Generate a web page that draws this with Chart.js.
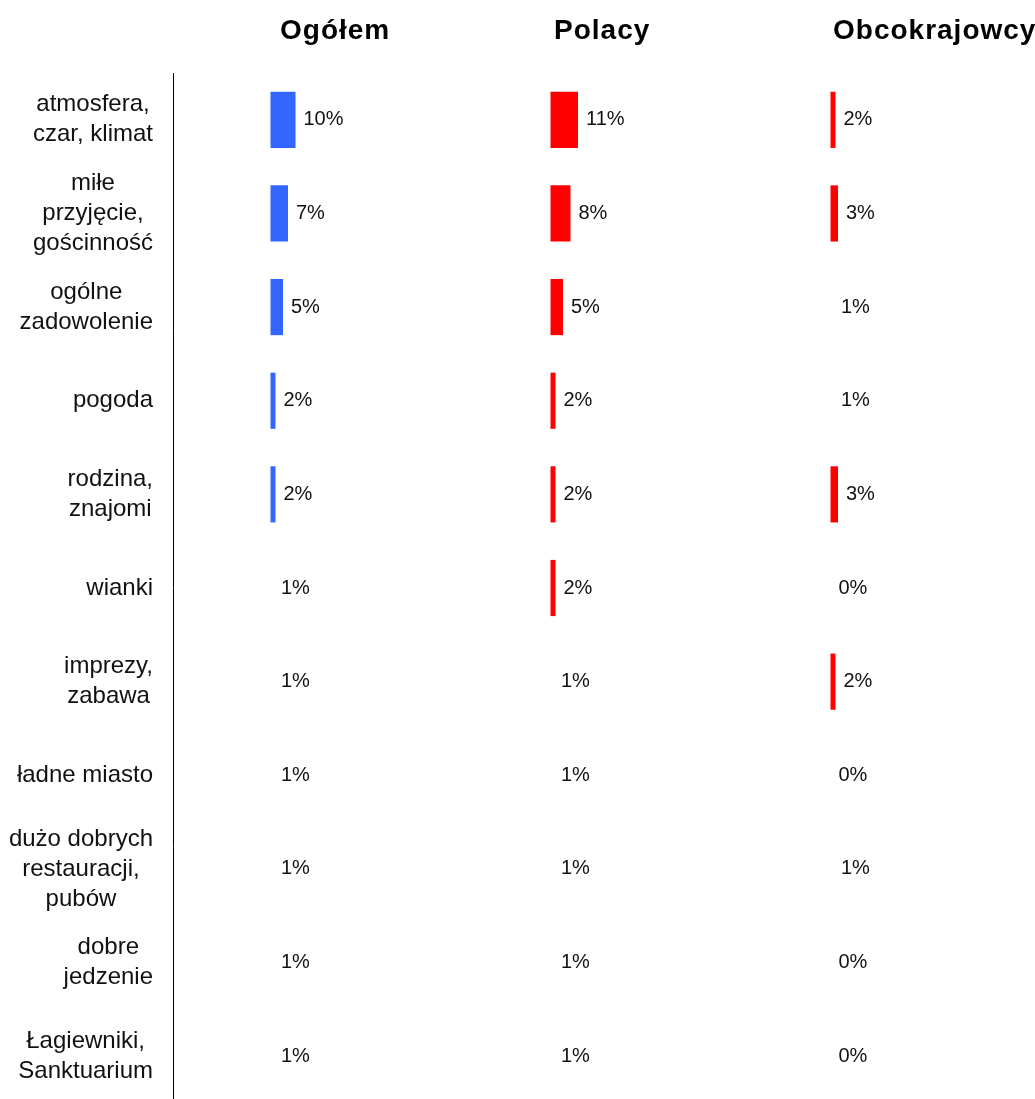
<!DOCTYPE html>
<html>
<head>
<meta charset="utf-8">
<script src="https://cdn.jsdelivr.net/npm/chart.js@4"></script>
<style>
  html, body { margin: 0; padding: 0; background: #fff; overflow: hidden; }
  .wrap { position: relative; width: 1035px; height: 1103px; }
  .head {
    position: absolute; top: 16px;
    font: bold 28px/28px "Liberation Sans", Arial, sans-serif;
    letter-spacing: 1px;
    color: #000; white-space: nowrap;
  }
</style>
</head>
<body>
<div class="wrap">
  <div class="head" style="left:280px">Ogółem</div>
  <div class="head" style="left:554px">Polacy</div>
  <div class="head" style="left:833px">Obcokrajowcy</div>
  <canvas id="chart" width="1035" height="1103"></canvas>
</div>
<script>
const categories = [
  ['atmosfera,', 'czar, klimat'],
  ['miłe', 'przyjęcie,', 'gościnność'],
  ['ogólne', 'zadowolenie'],
  'pogoda',
  ['rodzina,', 'znajomi'],
  'wianki',
  ['imprezy,', 'zabawa'],
  'ładne miasto',
  ['dużo dobrych', 'restauracji,', 'pubów'],
  ['dobre', 'jedzenie'],
  ['Łagiewniki,', 'Sanktuarium']
];

const ogolem = [10, 7, 5, 2, 2, 1, 1, 1, 1, 1, 1];
const polacy = [11, 8, 5, 2, 2, 2, 1, 1, 1, 1, 1];
const obcokrajowcy = [2, 3, 1, 1, 3, 0, 2, 0, 1, 0, 0];

const BLUE = '#3366ff';
const RED = '#ff0000';
const TEXT = '#111';
const FONT = '"Liberation Sans", Arial, sans-serif';

// bars of 1% and less are not drawn in the original, only the label
function barColor(color) {
  return (ctx) => (ctx.raw > 1 ? color : 'rgba(0,0,0,0)');
}

// category labels: block right aligned, lines centred inside the block
const categoryLabels = {
  id: 'categoryLabels',
  afterDraw(chart) {
    const ctx = chart.ctx;
    const y = chart.scales.y;
    const right = chart.chartArea.left - 20;
    ctx.save();
    ctx.font = '24px ' + FONT;
    ctx.fillStyle = TEXT;
    ctx.textAlign = 'center';
    ctx.textBaseline = 'middle';
    categories.forEach((label, i) => {
      const lines = Array.isArray(label) ? label : [label];
      const w = Math.max(...lines.map((l) => ctx.measureText(l).width));
      const cy = y.getPixelForValue(i);
      lines.forEach((line, j) => {
        ctx.fillText(line, right - w / 2, cy + (j - (lines.length - 1) / 2) * 30);
      });
    });
    ctx.restore();
  }
};

const valueLabels = {
  id: 'valueLabels',
  afterDatasetsDraw(chart) {
    const ctx = chart.ctx;
    ctx.save();
    ctx.font = '20px ' + FONT;
    ctx.fillStyle = TEXT;
    ctx.textAlign = 'left';
    ctx.textBaseline = 'middle';
    chart.data.datasets.forEach((ds, d) => {
      chart.getDatasetMeta(d).data.forEach((bar, i) => {
        ctx.fillText(ds.data[i] + '%', bar.x + 8, bar.y);
      });
    });
    ctx.restore();
  }
};

const column = { type: 'linear', display: false, stack: 'cols', position: 'bottom', min: -39, max: 73 };

new Chart(document.getElementById('chart'), {
  type: 'bar',
  data: {
    labels: categories,
    datasets: [
      { label: 'Ogółem', data: ogolem, xAxisID: 'x1', backgroundColor: barColor(BLUE) },
      { label: 'Polacy', data: polacy, xAxisID: 'x2', backgroundColor: barColor(RED) },
      { label: 'Obcokrajowcy', data: obcokrajowcy, xAxisID: 'x3', backgroundColor: barColor(RED) }
    ]
  },
  options: {
    indexAxis: 'y',
    responsive: false,
    animation: false,
    layout: { padding: { top: 73, right: 22, bottom: 0, left: 0 } },
    datasets: { bar: { grouped: false, categoryPercentage: 1, barPercentage: 0.6, borderWidth: 0 } },
    plugins: { legend: { display: false }, tooltip: { enabled: false } },
    scales: {
      x1: { ...column },
      x2: { ...column },
      x3: { ...column },
      y: {
        type: 'category',
        ticks: { display: false },
        grid: { display: false },
        border: { display: true, color: '#000', width: 1 },
        afterFit: (scale) => { scale.width = 173; }
      }
    }
  },
  plugins: [categoryLabels, valueLabels]
});
</script>
</body>
</html>
